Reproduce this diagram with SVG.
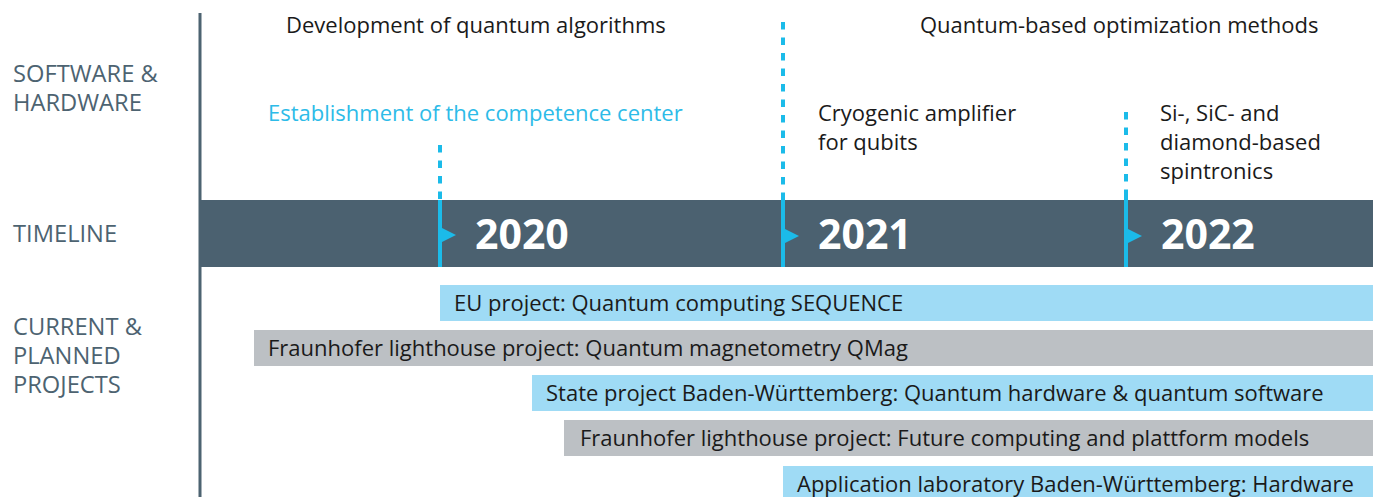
<svg xmlns="http://www.w3.org/2000/svg" width="1373" height="497" viewBox="0 0 1373 497">
<defs>
<style>
.lbl{font-family:"Open Sans","Liberation Sans",sans-serif;font-size:23.7px;fill:#4d6371;}
.top{font-family:"Open Sans","Liberation Sans",sans-serif;font-size:22px;fill:#1a1a1a;}
.est{font-family:"Open Sans","Liberation Sans",sans-serif;font-size:22px;fill:#2dbbe8;}
.year{font-family:"Open Sans","Liberation Sans",sans-serif;font-size:41px;font-weight:bold;fill:#ffffff;}
.ptxt{font-family:"Open Sans","Liberation Sans",sans-serif;font-size:22px;fill:#1a1a1a;}
.blue{fill:#9fdbf5;}
.gray{fill:#bcc0c4;}
.dash{stroke:#1bbbe9;stroke-width:4;stroke-dasharray:7.5 8;fill:none;}
.solid{stroke:#1bbbe9;stroke-width:4;fill:none;}
.flag{fill:#1bbbe9;}
</style>
</defs>
<rect width="1373" height="497" fill="#ffffff"/>
<g id="axis">
<line x1="200" y1="13" x2="200" y2="497" stroke="#4d6371" stroke-width="3"/>
<rect x="200" y="200" width="1173" height="67" fill="#4b6170"/>
</g>
<g id="row-labels">
<text class="lbl" x="13" y="82">SOFTWARE &amp;</text>
<text class="lbl" x="13" y="111">HARDWARE</text>
<text class="lbl" x="13" y="242">TIMELINE</text>
<text class="lbl" x="13" y="335">CURRENT &amp;</text>
<text class="lbl" x="13" y="364">PLANNED</text>
<text class="lbl" x="13" y="393">PROJECTS</text>
</g>
<g id="connectors">
<line class="dash" x1="440" y1="145" x2="440" y2="200"/>
<line class="solid" x1="440" y1="200" x2="440" y2="267"/>
<polygon class="flag" points="440,227 456,235 440,243"/>
<line class="dash" x1="783" y1="22" x2="783" y2="200"/>
<line class="solid" x1="783" y1="195" x2="783" y2="267"/>
<polygon class="flag" points="783,228 799,236 783,244"/>
<line class="dash" x1="1126" y1="112" x2="1126" y2="200"/>
<line class="solid" x1="1126" y1="195" x2="1126" y2="267"/>
<polygon class="flag" points="1126,228 1142,236 1126,244"/>
</g>
<g id="year-2020"><text class="year" x="475" y="249">2020</text></g>
<g id="year-2021"><text class="year" x="818" y="249">2021</text></g>
<g id="year-2022"><text class="year" x="1161" y="249">2022</text></g>
<g id="dev-algorithms"><text class="top" x="286" y="33">Development of quantum algorithms</text></g>
<g id="optimization"><text class="top" x="920" y="33">Quantum-based optimization methods</text></g>
<g id="competence-center"><text class="est" x="268" y="121">Establishment of the competence center</text></g>
<g id="cryogenic"><text class="top" x="818" y="121">Cryogenic amplifier</text><text class="top" x="818" y="150">for qubits</text></g>
<g id="spintronics"><text class="top" x="1160" y="121">Si-, SiC- and</text><text class="top" x="1160" y="150">diamond-based</text><text class="top" x="1160" y="179">spintronics</text></g>
<g id="proj-eu"><rect class="blue" x="440" y="285" width="933" height="36"/><text class="ptxt" x="454" y="311">EU project: Quantum computing SEQUENCE</text></g>
<g id="proj-qmag"><rect class="gray" x="254" y="330" width="1119" height="36"/><text class="ptxt" x="268" y="356">Fraunhofer lighthouse project: Quantum magnetometry QMag</text></g>
<g id="proj-state"><rect class="blue" x="532" y="375" width="841" height="36"/><text class="ptxt" x="546" y="401">State project Baden-Württemberg: Quantum hardware &amp; quantum software</text></g>
<g id="proj-future"><rect class="gray" x="564" y="420" width="809" height="36"/><text class="ptxt" x="580" y="446">Fraunhofer lighthouse project: Future computing and plattform models</text></g>
<g id="proj-applab"><rect class="blue" x="783" y="466" width="590" height="36"/><text class="ptxt" x="797" y="492">Application laboratory Baden-Württemberg: Hardware</text></g>
</svg>
